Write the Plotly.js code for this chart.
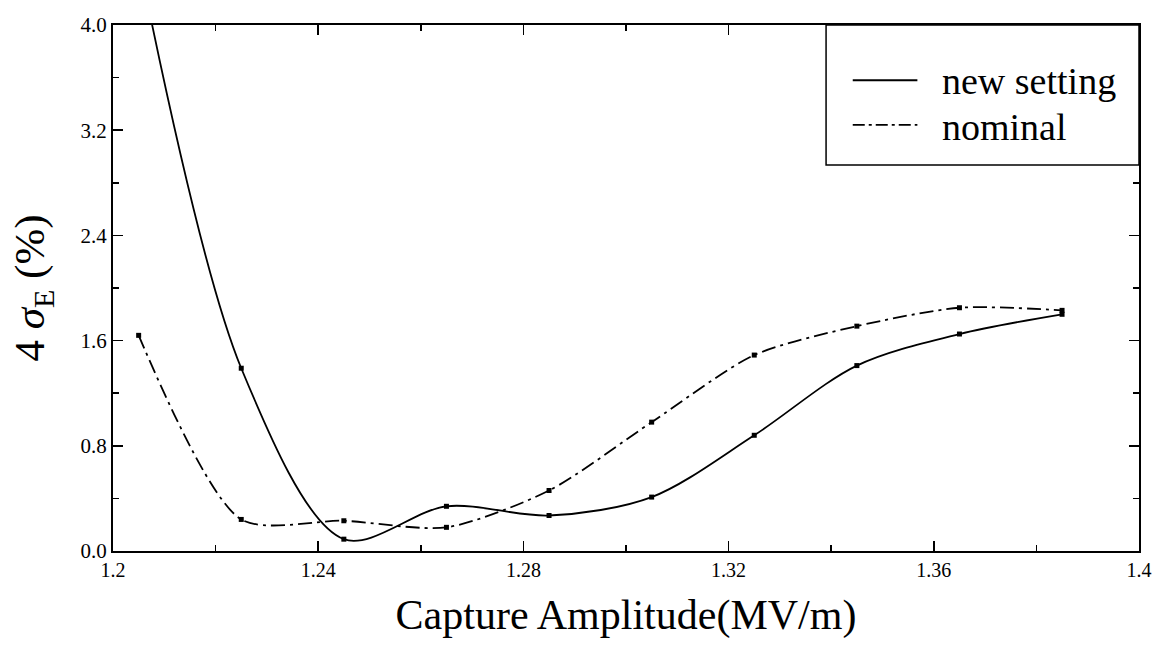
<!DOCTYPE html>
<html>
<head>
<meta charset="utf-8">
<script src="https://cdn.plot.ly/plotly-3.0.1.min.js"></script>
<style>html,body{margin:0;padding:0;background:#fff;}#chart{width:1154px;height:649px;}</style>
</head>
<body>
<div id="chart"></div>
<script>
// Capture amplitude (MV/m)
const amplitude = [1.205, 1.225, 1.245, 1.265, 1.285, 1.305, 1.325, 1.345, 1.365, 1.385];
// 4 sigma_E (%) for each setting
const newSetting = [4.5, 1.39, 0.09, 0.34, 0.27, 0.41, 0.88, 1.41, 1.65, 1.80];
const nominal = [1.64, 0.24, 0.23, 0.18, 0.46, 0.98, 1.49, 1.71, 1.85, 1.83];
const seriesNames = ["new setting", "nominal"];
const xTickVals = [1.2, 1.24, 1.28, 1.32, 1.36, 1.4];
const xTickText = ["1.2", "1.24", "1.28", "1.32", "1.36", "1.4"];
const yTickVals = [0, 0.8, 1.6, 2.4, 3.2, 4.0];
const yTickText = ["0.0", "0.8", "1.6", "2.4", "3.2", "4.0"];

const serif = "Liberation Serif";
const dashDot = "14px,5px,3px,5px";

const traces = [
  {
    x: amplitude, y: newSetting, name: seriesNames[0],
    type: "scatter", mode: "lines+markers", showlegend: false,
    line: {color: "#000", width: 1.8, shape: "spline", smoothing: 0.9},
    marker: {symbol: "square", size: 5, color: "#000"}
  },
  {
    x: amplitude, y: nominal, name: seriesNames[1],
    type: "scatter", mode: "lines+markers", showlegend: false,
    line: {color: "#000", width: 1.8, shape: "spline", smoothing: 0.75, dash: dashDot},
    marker: {symbol: "square", size: 5, color: "#000"}
  }
];

// legend box drawn as decoration in paper coordinates
const legendShapes = [
  {type: "rect", xref: "paper", yref: "paper", x0: 0.695, x1: 1, y0: 0.734, y1: 1,
   line: {color: "#000", width: 1.5}, fillcolor: "#fff", layer: "above"},
  {type: "line", xref: "paper", yref: "paper", x0: 0.721, x1: 0.784, y0: 0.895, y1: 0.895,
   line: {color: "#000", width: 1.8}},
  {type: "line", xref: "paper", yref: "paper", x0: 0.721, x1: 0.784, y0: 0.810, y1: 0.810,
   line: {color: "#000", width: 1.8, dash: "12px,4px,3px,4px"}}
];
const legendTexts = [
  {xref: "paper", yref: "paper", x: 0.806, y: 0.893, xanchor: "left", yanchor: "middle",
   text: seriesNames[0], showarrow: false, font: {family: serif, size: 38, color: "#000"}},
  {xref: "paper", yref: "paper", x: 0.806, y: 0.806, xanchor: "left", yanchor: "middle",
   text: seriesNames[1], showarrow: false, font: {family: serif, size: 38, color: "#000"}}
];

const layout = {
  width: 1154, height: 649,
  margin: {l: 113, r: 15, t: 25, b: 98},
  paper_bgcolor: "#fff", plot_bgcolor: "#fff",
  font: {family: serif, color: "#000", size: 20},
  showlegend: false,
  shapes: legendShapes,
  annotations: legendTexts,
  xaxis: {
    range: [1.2, 1.4],
    tickmode: "array", tickvals: xTickVals, ticktext: xTickText,
    ticks: "inside", ticklen: 10, tickwidth: 1.5, tickcolor: "#000",
    minor: {dtick: 0.02, tick0: 1.2, ticks: "inside", ticklen: 6, tickwidth: 1.5, tickcolor: "#000"},
    showline: true, linecolor: "#000", linewidth: 2, mirror: "ticks",
    showgrid: false, zeroline: false,
    tickfont: {family: serif, size: 20, color: "#000"},
    title: {text: "Capture Amplitude(MV/m)", font: {family: serif, size: 42, color: "#000"}, standoff: 20}
  },
  yaxis: {
    range: [0, 4],
    tickmode: "array", tickvals: yTickVals, ticktext: yTickText,
    ticks: "inside", ticklen: 10, tickwidth: 1.5, tickcolor: "#000",
    minor: {dtick: 0.4, tick0: 0, ticks: "inside", ticklen: 6, tickwidth: 1.5, tickcolor: "#000"},
    showline: true, linecolor: "#000", linewidth: 2, mirror: "ticks",
    showgrid: false, zeroline: false,
    tickfont: {family: serif, size: 21, color: "#000"},
    title: {text: "4 <i>σ</i><sub>E</sub> (%)", font: {family: serif, size: 43, color: "#000"}, standoff: 22}
  }
};

Plotly.newPlot("chart", traces, layout, {staticPlot: true, displayModeBar: false});
</script>
</body>
</html>
